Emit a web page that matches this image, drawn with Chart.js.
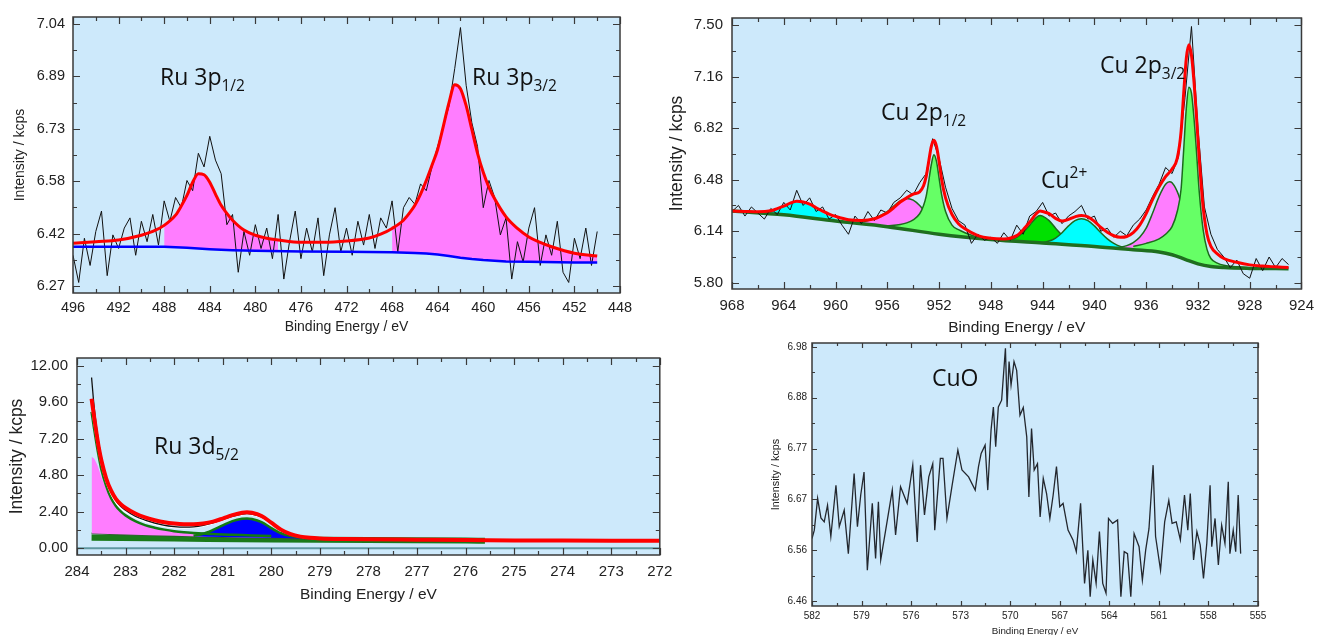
<!DOCTYPE html>
<html><head><meta charset="utf-8">
<script src="https://cdn.jsdelivr.net/npm/chart.js@4.4.1/dist/chart.umd.min.js"></script>
<style>
body{margin:0;background:#fff;width:1322px;height:635px;overflow:hidden;position:relative}
canvas{position:absolute}
.lbl{position:absolute;font-family:'Open Sans',sans-serif;font-size:23px;line-height:23px;color:#111;white-space:nowrap}
.lbl sub,.lbl sup{font-size:15.5px;position:relative;vertical-align:baseline}
.lbl sub{top:6px}
.lbl sup{top:-10px}
</style></head><body>
<canvas id="c1"></canvas><canvas id="c2"></canvas><canvas id="c3"></canvas><canvas id="c4"></canvas>
<div class="lbl" style="left:160px;top:65px">Ru 3p<sub>1/2</sub></div>
<div class="lbl" style="left:472px;top:65px">Ru 3p<sub>3/2</sub></div>
<div class="lbl" style="left:881px;top:100px">Cu 2p<sub>1/2</sub></div>
<div class="lbl" style="left:1100px;top:53px">Cu 2p<sub>3/2</sub></div>
<div class="lbl" style="left:1041px;top:168px">Cu<sup>2+</sup></div>
<div class="lbl" style="left:154px;top:434px">Ru 3d<sub>5/2</sub></div>
<div class="lbl" style="left:932px;top:366px">CuO</div>
<script>
// ---------- Ru 3p (top left) ----------
const ru3pTicksX=[496,492,488,484,480,476,472,468,464,460,456,452,448];
const ru3pTicksY=[6.27,6.424,6.578,6.732,6.886,7.04];
const ru3pRawE=[496,495.5,495,494.5,494,493.5,493,492.5,492,491.5,491,490.5,490,489.5,489,488.5,488,487.5,487,486.5,486,485.5,485,484.5,484,483.5,483,482.5,482,481.5,481,480.5,480,479.5,479,478.5,478,477.5,477,476.5,476,475.5,475,474.5,474,473.5,473,472.5,472,471.5,471,470.5,470,469.5,469,468.5,468,467.5,467,466.5,466,465.5,465,464.5,464,463.5,463,462.5,462,461.5,461,460.5,460,459.5,459,458.5,458,457.5,457,456.5,456,455.5,455,454.5,454,453.5,453,452.5,452,451.5,451,450.5,450];
const ru3pRaw=[6.36,6.28,6.41,6.33,6.43,6.49,6.30,6.42,6.38,6.44,
6.47,6.36,6.46,6.40,6.48,6.39,6.52,6.46,6.53,6.50,
6.58,6.55,6.66,6.62,6.71,6.64,6.60,6.45,6.48,6.31,
6.43,6.36,6.45,6.38,6.44,6.35,6.48,6.29,6.40,6.49,
6.35,6.44,6.37,6.47,6.30,6.42,6.50,6.37,6.44,6.36,
6.46,6.39,6.48,6.38,6.47,6.44,6.52,6.37,6.50,6.53,
6.51,6.57,6.55,6.62,6.68,6.74,6.80,6.91,7.03,6.86,
6.75,6.68,6.50,6.58,6.53,6.42,6.47,6.29,6.40,6.34,
6.44,6.50,6.33,6.42,6.36,6.46,6.31,6.28,6.41,6.35,
6.44,6.33,6.43];
const ru3pFitE=[496,494,492,490,489,488,487,486.5,486,485.5,485,484.5,484,483.5,483,482.5,482,481,480,479,478,476,474,472,470,469,468,467,466.5,466,465.5,465,464.5,464,463.5,463,462.5,462,461.5,461,460.5,460,459.5,459,458,457,456,455,454,452,450];
const ru3pFit=[6.395,6.40,6.405,6.419,6.43,6.448,6.478,6.505,6.536,6.575,6.600,6.597,6.575,6.54,6.507,6.483,6.463,6.434,6.419,6.41,6.405,6.398,6.398,6.402,6.411,6.422,6.439,6.463,6.483,6.507,6.54,6.58,6.625,6.672,6.74,6.81,6.862,6.85,6.80,6.73,6.66,6.604,6.56,6.526,6.473,6.439,6.414,6.398,6.385,6.366,6.358];
const ru3pBgE=[496,490,488,486,484,482,480,476,472,468,466,465,464,463,462,461,460,459,458,456,452,450];
const ru3pBg=[6.385,6.385,6.385,6.382,6.378,6.375,6.373,6.371,6.370,6.369,6.367,6.365,6.362,6.358,6.353,6.349,6.346,6.344,6.342,6.341,6.339,6.339];
const ru3pPeakRanges=[[488,478],[468,450]];

// ---------- Cu 2p (top right) ----------
const cu2pTicksX=[968,964,960,956,952,948,944,940,936,932,928,924];
const cu2pTicksY=[5.80,6.14,6.48,6.82,7.16,7.50];
const cu2pRawE=[968,967.5,967,966.5,966,965.5,965,964.5,964,963.5,963,962.5,962,961.5,961,960.5,960,959.5,959,958.5,958,957.5,957,956.5,956,955.5,955,954.5,954,953.5,953,952.5,952,951.5,951,950.5,950,949.5,949,948.5,948,947.5,947,946.5,946,945.5,945,944.5,944,943.5,943,942.5,942,941.5,941,940.5,940,939.5,939,938.5,938,937.5,937,936.5,936,935.5,935,934.5,934,933.5,933,932.5,932,931.5,931,930.5,930,929.5,929,928.5,928,927.5,927,926.5,926,925.5,925];
const cu2pRaw=[6.27,6.31,6.24,6.30,6.26,6.22,6.29,6.25,6.33,6.28,
6.41,6.31,6.36,6.27,6.30,6.22,6.25,6.18,6.12,6.24,
6.19,6.27,6.21,6.28,6.26,6.33,6.36,6.41,6.38,6.46,
6.52,6.75,6.62,6.43,6.29,6.21,6.18,6.06,6.12,6.08,
6.10,6.06,6.13,6.08,6.18,6.12,6.24,6.27,6.33,6.24,
6.26,6.19,6.24,6.27,6.31,6.22,6.24,6.14,6.16,6.10,
6.14,6.11,6.18,6.22,6.28,6.37,6.45,6.56,6.52,6.63,
7.02,7.49,6.82,6.30,6.12,6.02,5.97,5.90,5.95,5.86,
5.83,5.96,5.88,5.97,5.90,5.96,5.92];
const cu2pFitE=[968,967,966,965,964.5,964,963.5,963,962.5,962,961.5,961,960.5,960,959,958,957,956.5,956,955.5,955,954.5,954,953.5,953.2,953,952.8,952.6,952.4,952.2,952,951.8,951.5,951,950.5,950,949,948,947,946,945.5,945,944.5,944.2,944,943.5,943,942.5,942,941.5,941,940.5,940,939.5,939,938.5,938,937.5,937,936.5,936,935.5,935,934.5,934,933.6,933.3,933.1,932.9,932.7,932.5,932.3,932.1,931.9,931.6,931.3,931,930.5,930,929,928,927,926,925];
const cu2pFit=[6.273,6.27,6.268,6.275,6.289,6.305,6.325,6.338,6.333,6.318,6.295,6.273,6.253,6.238,6.216,6.211,6.222,6.24,6.262,6.295,6.333,6.36,6.385,6.40,6.44,6.50,6.60,6.70,6.74,6.70,6.60,6.48,6.36,6.25,6.19,6.156,6.111,6.093,6.089,6.111,6.15,6.20,6.255,6.273,6.27,6.256,6.225,6.207,6.218,6.235,6.244,6.235,6.205,6.165,6.133,6.11,6.10,6.105,6.13,6.18,6.256,6.35,6.433,6.50,6.55,6.62,6.80,7.05,7.28,7.37,7.30,7.12,6.88,6.62,6.30,6.12,6.04,5.99,5.96,5.935,5.918,5.91,5.905,5.90];
const cu2pBgE=[968,964,960,956,952,948,944,940,937,935,934,933,932,931,930,928,925];
const cu2pBg=[6.273,6.248,6.207,6.17,6.12,6.085,6.062,6.04,6.018,6.003,5.985,5.955,5.925,5.907,5.90,5.895,5.893];
const satAE=[966.5,965.5,964.5,964,963.5,963,962.5,962,961.5,961,960.5,959.5];
const satA=[6.266,6.27,6.289,6.305,6.322,6.33,6.325,6.31,6.285,6.262,6.24,6.205];
const p12SideE=[958.5,958,957.5,957,956.5,956,955.5,955,954.5,954,953.5,953,952.5,952,951.5,951,950.5];
const p12Side=[6.196,6.20,6.21,6.225,6.245,6.27,6.305,6.34,6.356,6.345,6.31,6.26,6.21,6.17,6.15,6.135,6.125];
const p12MainE=[956,955,954.5,954,953.5,953.2,953,952.8,952.6,952.4,952.2,952,951.8,951.5,951,950.5,950,949,948];
const p12Main=[6.175,6.185,6.195,6.215,6.255,6.31,6.37,6.47,6.58,6.644,6.60,6.49,6.38,6.27,6.18,6.15,6.13,6.10,6.087];
const satBE=[947,946.5,946,945.5,945,944.5,944.2,944,943.5,943,942.5,942,941.5,941];
const satB=[6.08,6.085,6.10,6.135,6.18,6.23,6.244,6.24,6.21,6.16,6.115,6.085,6.07,6.057];
const satCE=[944,943.5,943,942.5,942,941.5,941,940.5,940,939.5,939,938.5,938,937.5];
const satC=[6.065,6.075,6.095,6.13,6.175,6.21,6.222,6.21,6.175,6.13,6.09,6.06,6.04,6.03];
const p32SideE=[938.5,938,937.5,937,936.5,936,935.5,935,934.5,934.2,934,933.5,933,932.5,932,931.5,931];
const p32Side=[6.03,6.035,6.045,6.065,6.10,6.16,6.26,6.37,6.45,6.467,6.46,6.38,6.22,6.07,5.98,5.94,5.915];
const p32MainE=[937,936,935,934.5,934,933.6,933.3,933.1,932.9,932.7,932.5,932.3,932.1,931.9,931.6,931.3,931,930.5,930,929,928];
const p32Main=[6.04,6.06,6.09,6.12,6.17,6.27,6.42,6.68,6.95,7.09,7.05,6.88,6.65,6.40,6.15,6.02,5.96,5.93,5.915,5.905,5.898];

// ---------- Ru 3d (bottom left) ----------
const ru3dTicksX=[284,283,282,281,280,279,278,277,276,275,274,273,272];
const ru3dTicksY=[0,2.4,4.8,7.2,9.6,12];
const ru3dE=[283.7,283.65,283.6,283.55,283.5,283.4,283.3,283.2,283.1,283.0,282.8,282.6,282.4,282.2,282.0,281.8,281.6,281.4,281.2,281.0,280.8,280.6,280.5,280.4,280.2,280.0,279.8,279.6,279.4,279.2,279.0,278.5,278.0,277.0,276.0,275.0,274.0,273.0,272.0];
const ru3dFit=[9.84,8.7,7.6,6.6,5.8,4.6,3.8,3.25,2.9,2.65,2.28,2.02,1.84,1.70,1.62,1.58,1.58,1.63,1.75,1.95,2.17,2.33,2.36,2.33,2.12,1.68,1.22,0.92,0.76,0.68,0.64,0.60,0.58,0.56,0.54,0.51,0.50,0.49,0.48];
const ru3dRaw=[11.24,9.4,8.0,6.9,6.0,4.7,3.8,3.15,2.75,2.5,2.1,1.85,1.65,1.5,1.42,1.38,1.4,1.5,1.66,1.88,2.1,2.25,2.28,2.25,2.05,1.62,1.18,0.9,0.74,0.66,0.62,0.58,0.56,0.54,0.52,0.5,0.48,0.47,0.46];
const ru3dSum=[9.3,8.2,7.2,6.3,5.5,4.35,3.55,3.0,2.62,2.38,2.0,1.75,1.57,1.43,1.35,1.32,1.35,1.45,1.62,1.84,2.06,2.2,2.22,2.2,2.0,1.58,1.15,0.88,0.73,0.65,0.61];
const ru3dTail=[8.97,7.9,6.9,6.0,5.2,4.1,3.3,2.78,2.42,2.16,1.78,1.52,1.35,1.22,1.12,1.05,1.0,0.96,0.93,0.9,0.88,0.86,0.85,0.84,0.82,0.8];
const ru3dTailFill=[6.0,5.9,5.6,5.2,4.7,3.9,3.2,2.72,2.38,2.13,1.76,1.5,1.34,1.21,1.11,1.04,0.99,0.96,0.93,0.9,0.88,0.86,0.85,0.84,0.82,0.8];
const ru3d52E=[281.6,281.4,281.2,281.0,280.8,280.6,280.5,280.4,280.2,280.0,279.8,279.6,279.4,279.2];
const ru3d52=[0.82,0.95,1.2,1.5,1.78,1.94,1.96,1.92,1.72,1.32,0.98,0.8,0.72,0.68];
const ru3dBgE=[283.7,283,282,281,280,279,278,277,276,275.6];
const ru3dBg=[0.97,0.9,0.82,0.74,0.68,0.62,0.58,0.54,0.51,0.5];
const ru3dBandE=[283.7,282,280,278,276,275.6];
const ru3dBand=[0.68,0.63,0.57,0.53,0.5,0.49];
const zeroE=[284,272], zero=[0,0];

// ---------- CuO (bottom right) ----------
const cuoTicksX=[582,579,576,573,570,567,564,561,558,555];
const cuoTicksY=[6.46,6.564,6.668,6.772,6.876,6.98];
const cuoE=[582.0,581.86,581.66,581.46,581.26,581.06,580.86,580.55,580.35,580.05,579.8,579.45,579.25,579.05,578.85,578.65,578.35,578.15,577.98,577.84,577.54,577.14,576.94,576.64,576.24,575.9,575.63,575.43,575.19,574.93,574.69,574.57,574.23,574.07,573.83,573.53,573.17,572.92,572.52,572.12,571.92,571.76,571.52,571.36,571.16,571.02,570.88,570.72,570.52,570.29,570.19,570.07,569.95,569.77,569.61,569.41,569.21,569.0,568.87,568.71,568.55,568.35,568.19,568.0,567.8,567.6,567.4,567.2,567.0,566.8,566.5,566.2,566.0,565.74,565.5,565.3,565.16,565.0,564.8,564.6,564.4,564.2,564.05,563.8,563.5,563.3,563.1,562.9,562.7,562.5,562.2,562.0,561.8,561.6,561.35,561.2,560.9,560.65,560.4,560.2,559.95,559.7,559.45,559.25,559.1,558.9,558.7,558.5,558.3,558.1,557.9,557.8,557.6,557.4,557.2,557.0,556.8,556.7,556.5,556.35,556.2,556.05];
const cuoRaw=[6.588,6.605,6.67,6.63,6.622,6.656,6.592,6.697,6.612,6.646,6.557,6.721,6.612,6.677,6.724,6.523,6.66,6.547,6.663,6.544,6.605,6.687,6.595,6.694,6.66,6.738,6.581,6.738,6.636,6.714,6.741,6.605,6.752,6.752,6.629,6.694,6.769,6.728,6.714,6.687,6.735,6.762,6.779,6.687,6.81,6.857,6.776,6.857,6.871,6.977,6.857,6.95,6.902,6.95,6.932,6.84,6.856,6.796,6.673,6.813,6.728,6.741,6.632,6.711,6.68,6.629,6.677,6.735,6.653,6.66,6.605,6.585,6.561,6.66,6.496,6.564,6.469,6.544,6.496,6.602,6.496,6.476,6.629,6.619,6.626,6.469,6.561,6.557,6.469,6.598,6.571,6.503,6.564,6.608,6.738,6.592,6.523,6.622,6.666,6.619,6.622,6.585,6.677,6.605,6.68,6.544,6.602,6.575,6.506,6.578,6.697,6.571,6.629,6.534,6.615,6.578,6.704,6.557,6.605,6.561,6.677,6.557];

// ============================================================
const BG='#cde9fb', INK='#222', FONT="'Liberation Sans', Arial, sans-serif";
const MAG='#ff7dff', LGRN='#66ff66', GRN='#00e000', CYA='#00ffff', DKG='#1c6a1c';
const pts=(xs,ys)=>ys.map((y,i)=>({x:xs[i],y}));
const ln=(data,color,w,o)=>Object.assign({data,borderColor:color,borderWidth:w,pointRadius:0,showLine:true,fill:false,tension:0},o||{});
const fit=(data,color,w,o)=>ln(data,color,w,Object.assign({cubicInterpolationMode:'monotone'},o||{}));
const comp=(data,color,target,line,w)=>fit(data,line||'rgba(0,0,0,0)',w||0,{fill:{target,above:color,below:color},backgroundColor:color});

const framePlugin={id:'frame',
  beforeDraw(ch){const a=ch.chartArea,c=ch.ctx;c.save();c.fillStyle=BG;c.fillRect(a.left,a.top,a.width,a.height);c.restore();},
  afterDraw(ch,args,o){
    const a=ch.chartArea,c=ch.ctx,sx=ch.scales.x,sy=ch.scales.y,L=o.tick||[7,4];
    const xt=sx.ticks.map(t=>t.value),yt=sy.ticks.map(t=>t.value);
    const mid=v=>v.slice(1).map((u,i)=>(u+v[i])/2);
    c.save();c.strokeStyle='#3a3a3a';c.lineWidth=1.2;c.beginPath();
    const vx=(v,l)=>{const p=Math.round(sx.getPixelForValue(v))+.5;c.moveTo(p,a.bottom);c.lineTo(p,a.bottom-l);c.moveTo(p,a.top);c.lineTo(p,a.top+l);};
    const vy=(v,l)=>{const p=Math.round(sy.getPixelForValue(v))+.5;c.moveTo(a.left,p);c.lineTo(a.left+l,p);c.moveTo(a.right,p);c.lineTo(a.right-l,p);};
    xt.forEach(v=>vx(v,L[0]));mid(xt).forEach(v=>vx(v,L[1]));
    yt.forEach(v=>vy(v,L[0]));mid(yt).forEach(v=>vy(v,L[1]));
    c.stroke();c.lineWidth=1.5;c.strokeRect(a.left,a.top,a.width,a.height);c.restore();
  }};

function build(id,P){
  const b=P.box,a=P.area,cv=document.getElementById(id);
  cv.width=b.w;cv.height=b.h;cv.style.left=b.x+'px';cv.style.top=b.y+'px';
  return new Chart(cv,{type:'scatter',data:{datasets:P.sets},
    options:{responsive:false,animation:false,
      layout:{padding:{left:0,top:a.t-b.y,right:b.x+b.w-a.r,bottom:0}},
      plugins:{legend:{display:false},tooltip:{enabled:false},frame:{tick:P.tick}},
      scales:{
        x:{type:'linear',reverse:true,min:P.xr[0],max:P.xr[1],
          afterBuildTicks:s=>{s.ticks=P.xt.map(v=>({value:v}));},
          afterFit:s=>{s.height=b.y+b.h-a.b;},
          grid:{display:false,drawTicks:false},border:{display:false},
          ticks:{autoSkip:false,maxRotation:0,minRotation:0,padding:P.tpx,color:INK,font:{family:FONT,size:P.fx},callback:v=>String(v)},
          title:{display:true,text:'Binding Energy / eV',color:INK,font:{family:FONT,size:P.ftx},padding:{top:0,bottom:P.pbx}}},
        y:{type:'linear',min:P.yr[0],max:P.yr[1],
          afterBuildTicks:s=>{s.ticks=P.yt.map(v=>({value:v}));},
          afterFit:s=>{s.width=a.l-b.x;},
          grid:{display:false,drawTicks:false},border:{display:false},
          ticks:{autoSkip:false,padding:P.tpy,color:INK,font:{family:FONT,size:P.fy},callback:v=>v.toFixed(2)},
          title:{display:true,text:'Intensity / kcps',color:INK,font:{family:FONT,size:P.fty},padding:{top:P.pty,bottom:0}}}
      }},
    plugins:[framePlugin]});
}

// top left
const ru3pFitPts=pts(ru3pFitE,ru3pFit);
build('c1',{box:{x:0,y:0,w:650,h:340},area:{l:73,t:17,r:620,b:293},xr:[448,496],yr:[6.249,7.061],
  xt:ru3pTicksX,yt:ru3pTicksY,fx:14.5,fy:14.5,ftx:14,fty:14,tpx:6,tpy:8,pbx:4.6,pty:11.6,
  sets:[
    fit(ru3pFitPts,'#ff0000',3),
    ln(pts(ru3pBgE,ru3pBg),'#0000ff',2.5),
    ln(pts(ru3pRawE,ru3pRaw),'#111',1),
    ...ru3pPeakRanges.map(r=>comp(ru3pFitPts.filter(p=>p.x<=r[0]&&p.x>=r[1]),MAG,1))
  ]});

// top right
build('c2',{box:{x:660,y:0,w:662,h:340},area:{l:732,t:17,r:1307,b:289},xr:[924,968],yr:[5.759,7.546],
  xt:cu2pTicksX,yt:cu2pTicksY,fx:15,fy:15,ftx:15.5,fty:17.5,tpx:8,tpy:9,pbx:2.7,pty:6.5,
  sets:[
    fit(pts(cu2pFitE,cu2pFit),'#ff0000',3),
    ln(pts(cu2pRawE,cu2pRaw),'#111',1),
    fit(pts(cu2pBgE,cu2pBg),'#1f6e1f',3.5),
    comp(pts(p32MainE,p32Main),LGRN,2,DKG,1.5),
    comp(pts(p32SideE,p32Side),MAG,2,DKG,1.5),
    comp(pts(satCE,satC),CYA,2,DKG,1.5),
    comp(pts(satBE,satB),GRN,2,DKG,1.5),
    comp(pts(p12MainE,p12Main),LGRN,2,DKG,1.5),
    comp(pts(p12SideE,p12Side),MAG,2,DKG,1.5),
    comp(pts(satAE,satA),CYA,2)
  ]});

// bottom left
build('c3',{box:{x:0,y:340,w:680,h:280},area:{l:77,t:355,r:660,b:555},xr:[272,284],yr:[-0.45,12.52],
  xt:ru3dTicksX,yt:ru3dTicksY,fx:15,fy:15,ftx:15.5,fty:17.5,tpx:7.7,tpy:9,pbx:15.7,pty:6.5,
  sets:[
    fit(pts(ru3dE,ru3dFit),'#ff0000',4),
    fit(pts(ru3dE,ru3dRaw),'#111',1.3),
    fit(pts(ru3dE,ru3dSum),'#ffffff',1.3),
    fit(pts(ru3dE,ru3dTail),'#127a12',2.5),
    comp(pts(ru3d52E,ru3d52),'#0000ff',6,'#127a12',2.5),
    comp(pts(ru3dE,ru3dTailFill),MAG,6),
    fit(pts(ru3dBgE,ru3dBg),'#2a5f2a',2),
    fit(pts(ru3dBandE,ru3dBand),'#1a7a1a',6),
    ln(pts(zeroE,zero),'#5f97a0',2)
  ]});

// bottom right
build('c4',{box:{x:760,y:330,w:540,h:308},area:{l:812,t:343,r:1258,b:606},xr:[555,582],yr:[6.4498,6.988],
  xt:cuoTicksX,yt:cuoTicksY,fx:10,fy:10,ftx:9.8,fty:10.8,tpx:4,tpy:5,pbx:1.1,pty:9.5,tick:[5,3],
  sets:[ln(pts(cuoE,cuoRaw),'#23272e',1.3)]});
</script>
</body></html>
